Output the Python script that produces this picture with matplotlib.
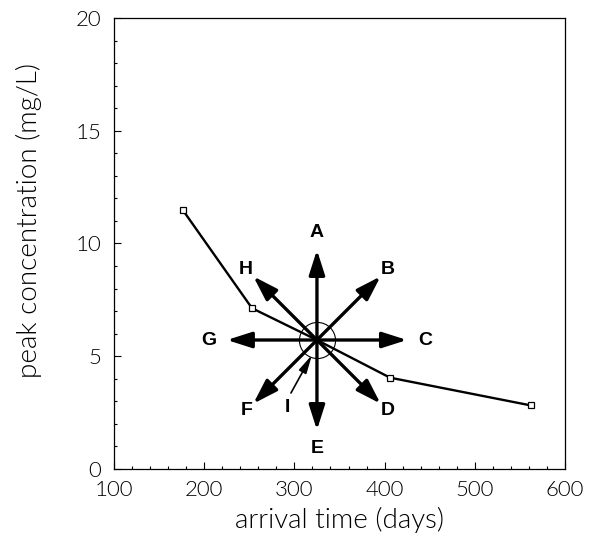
import numpy as np
import matplotlib
matplotlib.use('agg')
import matplotlib.pyplot as plt

# breakthrough curve data
arrival = [176, 253, 325, 406, 562]
peak = [11.5, 7.13, 5.72, 4.05, 2.82]
center = (325, 5.72)

# direction arrows: label, angle (deg)
arrow_labels = ['A', 'B', 'C', 'D', 'E', 'F', 'G', 'H']
arrow_angles = [90, 45, 0, -45, -90, -135, 180, 135]

plt.rcParams['font.family'] = ['Lato', 'DejaVu Sans']

fig = plt.figure(figsize=(5.89, 5.58), dpi=100)
ax = fig.add_axes([0.1935, 0.1595, 0.7658, 0.8083])
ax.set_xlim(100, 600)
ax.set_ylim(0, 20)

ax.plot(arrival, peak, 'k-', lw=1.7, zorder=2)
ax.plot([arrival[i] for i in (0, 1, 3, 4)], [peak[i] for i in (0, 1, 3, 4)],
        's', ms=5, mfc='white', mec='k', mew=0.9, zorder=3)
ax.plot(*center, 'o', ms=26, mfc='none', mec='k', mew=0.8, zorder=3)

pt = 0.72  # points per pixel
L = 90 * pt
bold = dict(fontsize=14, fontweight='bold', family=['Liberation Sans', 'DejaVu Sans'])
for lab, ang in zip(arrow_labels, arrow_angles):
    a = np.deg2rad(ang)
    ax.annotate('', xy=center, xytext=(L * np.cos(a), L * np.sin(a)),
                textcoords='offset points',
                arrowprops=dict(arrowstyle='<|-, head_length=1.5, head_width=0.48',
                                lw=2.4, color='k', shrinkA=0, shrinkB=0))
    r = 108 * pt if ang % 90 == 0 else 100 * pt
    ax.annotate(lab, xy=center, xytext=(r * np.cos(a), r * np.sin(a)),
                textcoords='offset points', ha='center', va='center', **bold)

# arrow I points at the centre
cx, cy = fig.dpi_scale_trans.inverted().transform(ax.transData.transform(center)) * 72
ax.annotate('', xy=(cx - 5 * pt, cy - 15 * pt), xycoords='figure points',
            xytext=(cx - 26 * pt, cy - 53 * pt), textcoords='figure points',
            arrowprops=dict(arrowstyle='-|>, head_length=1.1, head_width=0.25',
                            lw=1.2, color='k', shrinkA=0, shrinkB=0))
ax.annotate('I', xy=center, xytext=(-30 * pt, -67 * pt), textcoords='offset points',
            ha='center', va='center', **bold)

ax.set_xticks(range(100, 601, 100))
ax.set_xticks(range(100, 601, 20), minor=True)
ax.set_yticks(range(0, 21, 5))
ax.set_yticks(range(0, 21, 1), minor=True)
ax.tick_params(which='both', direction='in', top=False, right=False,
               labelsize=16, width=0.8)
ax.tick_params(which='major', length=5)
ax.tick_params(which='minor', length=2.5)
ax.tick_params(axis='x', pad=8)
ax.tick_params(axis='y', pad=9)
for t in ax.get_xticklabels() + ax.get_yticklabels():
    t.set_fontweight(300)
ax.set_xlabel('arrival time (days)', fontsize=20, fontweight=300, labelpad=5)
ax.set_ylabel('peak concentration (mg/L)', fontsize=20, fontweight=300)
ax.yaxis.set_label_coords(-0.16, 0.55)
for s in ax.spines.values():
    s.set_linewidth(0.9)

fig.savefig('out.png', dpi=100)
